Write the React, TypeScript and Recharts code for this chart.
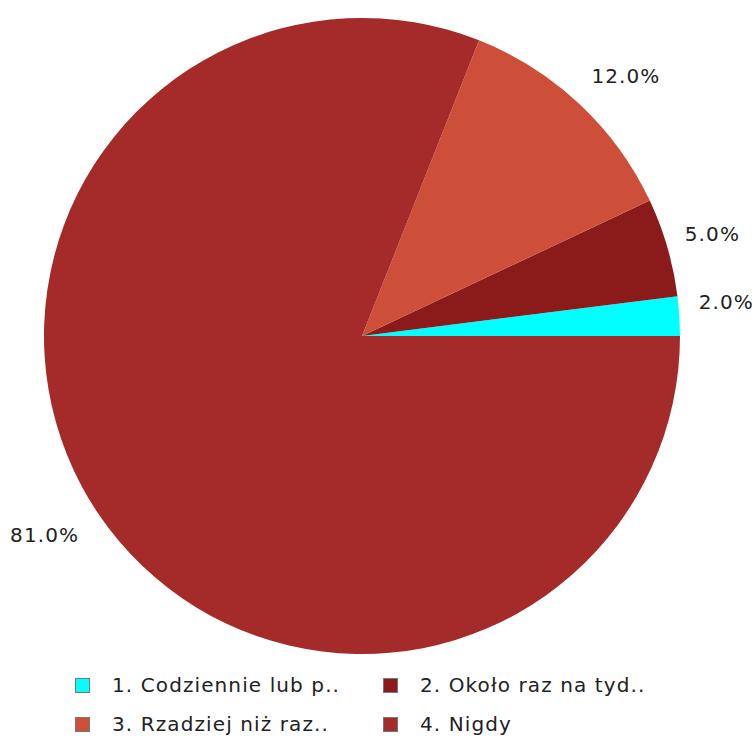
import { PieChart, Pie, Cell, Legend } from "recharts";

const names = [
  "1. Codziennie lub p..",
  "2. Około raz na tyd..",
  "3. Rzadziej niż raz..",
  "4. Nigdy",
];
const values = [2, 5, 12, 81];
const colors = ["#00ffff", "#8b1a1a", "#cd4f39", "#a52a2a"];

const data = names.map((name, i) => ({ name, value: values[i] }));

const RADIAN = Math.PI / 180;
// small nudges so the percent labels sit where the original put them
const labelNudge = [
  [-3, -11],
  [-3, 1],
  [12, 8],
  [-13, -8],
];

function renderLabel(props: any) {
  const { cx, cy, midAngle, percent, index } = props;
  const r = 368;
  const x = cx + r * Math.cos(-midAngle * RADIAN) + labelNudge[index][0];
  const y = cy + r * Math.sin(-midAngle * RADIAN) + labelNudge[index][1];
  return (
    <text
      x={x}
      y={y}
      fill="#222"
      fontSize={20}
      fontFamily="DejaVu Sans"
      letterSpacing={1.1}
      textAnchor="middle"
      dominantBaseline="central"
    >
      {(percent * 100).toFixed(1)}%
    </text>
  );
}

function LegendBox() {
  return (
    <div
      style={{
        display: "grid",
        gridTemplateColumns: "308px 300px",
        rowGap: 17,
        paddingLeft: 75,
        fontFamily: "DejaVu Sans",
        fontSize: 20,
        letterSpacing: 1.1,
        color: "#222",
      }}
    >
      {data.map((d, i) => (
        <div key={d.name} style={{ display: "flex", alignItems: "center", height: 22 }}>
          <span
            style={{
              display: "inline-block",
              width: 13,
              height: 13,
              background: colors[i],
              border: "1px solid #777",
              marginRight: 22,
            }}
          />
          <span>{d.name}</span>
        </div>
      ))}
    </div>
  );
}

export default function App() {
  return (
    <div style={{ position: "absolute", left: 0, top: 0, background: "#fff" }}>
      <PieChart width={755} height={736} margin={{ top: 0, right: 0, bottom: 0, left: 0 }}>
        <Pie
          data={data}
          dataKey="value"
          cx={362}
          cy={336}
          outerRadius={318}
          startAngle={0}
          endAngle={360}
          stroke="none"
          label={renderLabel}
          labelLine={false}
          isAnimationActive={false}
        >
          {data.map((d, i) => (
            <Cell key={d.name} fill={colors[i]} />
          ))}
        </Pie>
        <Legend
          content={<LegendBox />}
          wrapperStyle={{ position: "absolute", left: 0, top: 674, width: 755 }}
        />
      </PieChart>
    </div>
  );
}
